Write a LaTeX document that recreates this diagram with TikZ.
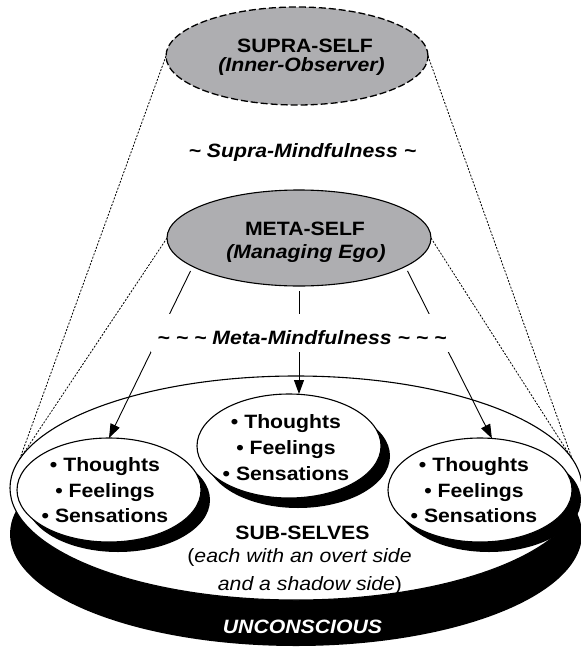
\documentclass[tikz,border=0pt]{standalone}
\usepackage{fontspec}
\setmainfont{Liberation Sans}[FakeStretch=1.1]
\usetikzlibrary{shapes.geometric,arrows.meta,shadows}
\definecolor{selfgray}{RGB}{174,174,177}
\begin{document}
\begin{tikzpicture}[x=1pt,y=-1pt,
  shapebase/.style={ellipse, inner sep=0pt, outer sep=0pt},
  supraself/.style={shapebase, draw, fill=selfgray, line width=1.3pt,
    dash pattern=on 7pt off 3pt, minimum width=262pt, minimum height=98pt},
  metaself/.style={shapebase, draw, fill=selfgray, line width=1.1pt,
    minimum width=264pt, minimum height=96pt},
  subself/.style={shapebase, draw, fill=white, line width=1.1pt,
    minimum width=184pt, minimum height=104pt,
    drop shadow={shadow xshift=9pt, shadow yshift=-10pt, opacity=1, fill=black}},
  pool/.style={shapebase, draw, fill=white, line width=1.1pt,
    minimum width=572pt, minimum height=224pt,
    drop shadow={shadow xshift=0pt, shadow yshift=-46pt, opacity=1, fill=black}},
  link/.style={line width=0.9pt, shorten <=5pt, -{Triangle[length=14pt,width=10pt]}},
  guide/.style={line width=0.8pt, dash pattern=on 2pt off 1.5pt},
  txt/.style={anchor=base, inner sep=0pt, font=\fontsize{19.3}{24}\selectfont},
  btxt/.style={anchor=base, inner sep=0pt, font=\fontsize{19.3}{24}\selectfont\bfseries},
  bitxt/.style={anchor=base, inner sep=0pt, font=\fontsize{19.3}{24}\selectfont\bfseries\itshape},
]
\useasboundingbox (0,0) rectangle (581,648);

% the pool of sub-selves resting on the unconscious
\node[pool] (sub) at (296,488) {};

% the three sub-selves
\node[subself] (lsub) at (109,490) {};
\node[subself] (msub) at (289,446) {};
\node[subself] (rsub) at (480,490) {};

% supra-self and meta-self
\node[supraself] (supra) at (297,56) {};
\node[metaself] (meta) at (299,238) {};

% cone of awareness
\draw[guide] (supra.west) -- (sub.174);
\draw[guide] (meta.west) -- (sub.174);
\draw[guide] (supra.east) -- (sub.6);
\draw[guide] (meta.east) -- (sub.6);

% meta-self reaching the sub-selves
\draw[link] (meta.195) -- (lsub.north);
\draw[link] (meta.south) -- (meta.south |- msub.north);
\draw[link] (meta.-15) -- (rsub.77);

% labels
\node[btxt] (supraA) at (305,52) {SUPRA-SELF};
\node[bitxt] (supraB) at (301.5,71) {(Inner-Observer)};
\node[bitxt] (supraM) at (302.5,157.5) {\char`\~\ Supra-Mindfulness \char`\~};
\node[btxt] (metaA) at (305,235) {META-SELF};
\node[bitxt] (metaB) at (306,258) {(Managing Ego)};
\node[bitxt, fill=white, text height=22pt, text depth=0pt, inner xsep=6pt, inner ysep=8pt]
  (metaM) at (302,344) {\char`\~\ \char`\~\ \char`\~\ Meta-Mindfulness \char`\~\ \char`\~\ \char`\~};

\node[btxt] (l1) at (105,471) {• Thoughts};
\node[btxt] (l2) at (105,497) {• Feelings};
\node[btxt] (l3) at (105,522) {• Sensations};
\node[btxt] (m1) at (286,428) {• Thoughts};
\node[btxt] (m2) at (286,454) {• Feelings};
\node[btxt] (m3) at (286,480) {• Sensations};
\node[btxt] (r1) at (474,471) {• Thoughts};
\node[btxt] (r2) at (474,497) {• Feelings};
\node[btxt] (r3) at (474,522) {• Sensations};

\node[btxt] (subA) at (302.5,539) {SUB-SELVES};
\node[txt] (subB) at (299.5,562) {(\textit{each with an overt side}};
\node[txt] (subC) at (310,590) {\textit{and a shadow side})};

\node[bitxt, text=white] (uncon) at (302.5,633) {UNCONSCIOUS};
\end{tikzpicture}
\end{document}
